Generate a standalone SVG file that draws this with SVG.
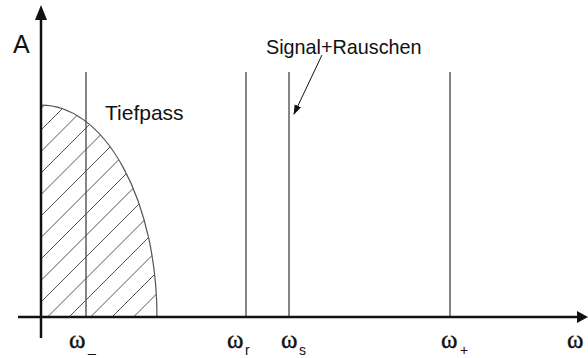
<svg xmlns="http://www.w3.org/2000/svg" width="588" height="358" viewBox="0 0 588 358">
<style>
.axis{stroke:#111;stroke-width:2.5;fill:none}
.vl{stroke:#444;stroke-width:1.3;fill:none}
.hatch{stroke:#555;stroke-width:1;fill:none}
.curve{stroke:#555;stroke-width:1.2;fill:none}
text{font-family:"Liberation Sans",Arial,sans-serif;fill:#111}
.om{font-family:"Liberation Serif","Times New Roman",serif;font-size:25px;stroke:#111;stroke-width:0.4}
.sub{font-size:14px}
</style>
<defs>
<clipPath id="lp"><path d="M41,317 L41,105 A116,212 0 0 1 157,317 Z"/></clipPath>
<marker id="ah" markerWidth="10" markerHeight="10" refX="9" refY="5" orient="auto" markerUnits="userSpaceOnUse"><path d="M0,1.5 L10,5 L0,8.5 Z" fill="#111"/></marker>
</defs>
<g id="lowpass">
<g clip-path="url(#lp)" class="hatch">
<path d="M41,108.5 L157,-7.5 M41,130 L157,14 M41,151.5 L157,35.5 M41,173 L157,57 M41,194.5 L157,78.5 M41,216 L157,100 M41,237.5 L157,121.5 M41,259 L157,143 M41,280.5 L157,164.5 M41,302 L157,186 M41,323.5 L157,207.5 M41,345 L157,229 M41,366.5 L157,250.5 M41,388 L157,272 M41,409.5 L157,293.5 M41,431 L157,315 M41,452.5 L157,336.5"/>
</g>
<path class="curve" d="M41,105 A116,212 0 0 1 157,317"/>
<text x="105" y="120" style="font-size:21px">Tiefpass</text>
</g>
<g id="lines">
<line class="vl" x1="86" y1="72" x2="86" y2="317"/>
<line class="vl" x1="246" y1="72" x2="246" y2="317"/>
<line class="vl" x1="289" y1="72" x2="289" y2="317"/>
<line class="vl" x1="450" y1="72" x2="450" y2="317"/>
</g>
<g id="axes">
<line class="axis" x1="18" y1="317" x2="578" y2="317"/>
<path d="M577,311 L588,317 L577,323 Z" fill="#111"/>
<line class="axis" x1="41" y1="338" x2="41" y2="18"/>
<path d="M35,20 L41,5 L47,20 Z" fill="#111"/>
<text x="13" y="53" style="font-size:25px">A</text>
</g>
<g id="connectors">
<line x1="322" y1="55" x2="294" y2="114" stroke="#111" stroke-width="1" marker-end="url(#ah)"/>
</g>
<g id="signal">
<text x="266" y="54" style="font-size:19.8px">Signal+Rauschen</text>
</g>
<g id="labels">
<text class="om" x="69" y="348">ω</text><text class="sub" x="88" y="352">_</text>
<text class="om" x="227" y="348">ω</text><text class="sub" x="245" y="355">r</text>
<text class="om" x="281" y="348">ω</text><text class="sub" x="299" y="355">s</text>
<text class="om" x="441" y="348">ω</text><text class="sub" x="460" y="355">+</text>
<text class="om" x="567" y="348">ω</text>
</g>
</svg>
